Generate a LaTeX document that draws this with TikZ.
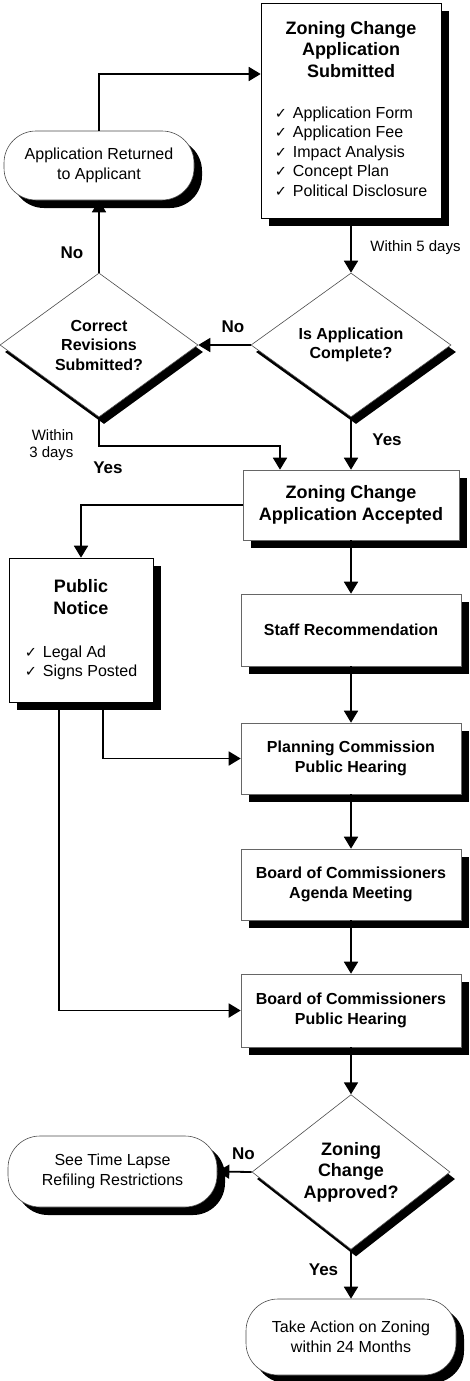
\documentclass[tikz,border=0pt]{standalone}
\usepackage{fontspec}
\setmainfont{Liberation Sans}
\newfontfamily\checkfont{DejaVu Sans}
\usetikzlibrary{shapes.geometric, arrows.meta, shadows}
\newcommand{\chkmark}{{\checkfont\fontsize{14.5}{14.5}\selectfont ✓}\hspace{6pt}}
\newcommand{\ttlfont}{\fontsize{18}{21.5}\selectfont\bfseries}
\tikzset{
    shadowed/.style={drop shadow={shadow xshift=8pt, shadow yshift=-8pt, fill=black, opacity=1}},
    block/.style={rectangle, draw=black!60, fill=white, line width=0.6pt, shadowed, align=center, inner sep=0pt, font=\fontsize{16}{19.5}\selectfont\bfseries},
    bigblock/.style={block, draw=black, font=\fontsize{16}{19.5}\selectfont},
    terminal/.style={rectangle, rounded corners=32pt, draw=black!70, fill=white, line width=0.6pt, shadowed, align=center, inner sep=0pt, font=\fontsize{16}{19.5}\selectfont},
    decision/.style={diamond, draw=black!70, fill=white, line width=0.6pt, inner sep=0pt, align=center, font=\fontsize{16}{19.5}\selectfont\bfseries, drop shadow={shadow xshift=5pt, shadow yshift=-7pt, fill=black, opacity=1}},
    line/.style={draw, line width=1.8pt, -{Triangle[length=12pt, width=14pt]}},
    answer/.style={font=\fontsize{17}{20}\selectfont\bfseries},
    note/.style={font=\fontsize{15}{17}\selectfont},
}

\begin{document}
\begin{tikzpicture}[x=1pt, y=1pt]

    \useasboundingbox (0,0) rectangle (469,-1381);

    % Submission
    \node[bigblock, minimum width=180pt, minimum height=215pt] (submitted) at (351,-110.5) {{\ttlfont\begin{tabular}{@{}c@{}}Zoning Change\\Application\\Submitted\end{tabular}}\\[20pt]\begin{tabular}{@{}l@{}}\chkmark Application Form\\\chkmark Application Fee\\\chkmark Impact Analysis\\\chkmark Concept Plan\\\chkmark Political Disclosure\end{tabular}};
    \node[terminal, minimum width=190pt, minimum height=69pt] (returned) at (99,-165.5) {Application Returned\\to Applicant};

    % Completeness check
    \node[decision, minimum width=200pt, minimum height=144pt] (complete) at (351,-345) {Is Application\\Complete?};
    \node[decision, minimum width=198pt, minimum height=144pt] (revisions) at (99,-345) {Correct\\Revisions\\Submitted?};

    % Review steps
    \node[block, minimum width=216pt, minimum height=70pt, font=\ttlfont] (accepted) at (351,-505) {Zoning Change\\Application Accepted};
    \node[bigblock, minimum width=144pt, minimum height=144pt] (notice) at (81,-630) {{\ttlfont\begin{tabular}{@{}c@{}}Public\\Notice\end{tabular}}\\[22pt]\begin{tabular}{@{}l@{}}\chkmark Legal Ad\\\chkmark Signs Posted\end{tabular}};
    \node[block, minimum width=220pt, minimum height=72pt] (staff) at (351,-630) {Staff Recommendation};
    \node[block, minimum width=220pt, minimum height=71pt] (planning) at (351,-758.5) {Planning Commission\\Public Hearing};
    \node[block, minimum width=220pt, minimum height=71pt] (agenda) at (351,-884.5) {Board of Commissioners\\Agenda Meeting};
    \node[block, minimum width=220pt, minimum height=73pt] (hearing) at (351,-1010.5) {Board of Commissioners\\Public Hearing};

    % Decision
    \node[decision, minimum width=198pt, minimum height=142pt, font=\fontsize{18}{21.5}\selectfont\bfseries] (approved) at (351,-1172) {Zoning\\Change\\Approved?};
    \node[terminal, minimum width=209pt, minimum height=71pt] (refiling) at (112.5,-1171.5) {See Time Lapse\\Refiling Restrictions};
    \node[terminal, minimum width=210pt, minimum height=76pt] (action) at (351,-1337) {Take Action on Zoning\\within 24 Months};

    % Labels
    \node[note] (within5) at (415.5,-248) {Within 5 days};
    \node[note, align=right, anchor=east] (within3) at (77,-445) {Within\\3 days};
    \node[answer] (no1) at (72,-253) {No};
    \node[answer] (no2) at (233,-327) {No};
    \node[answer] (yes1) at (387,-440) {Yes};
    \node[answer] (yes2) at (108,-468) {Yes};
    \node[answer] (no3) at (243.5,-1154) {No};
    \node[answer] (yes3) at (323.5,-1270) {Yes};

    % Connectors
    \draw[line] (returned.north) |- ([yshift=36.5pt]submitted.west);
    \draw[line] (revisions.north) -- (returned.south);
    \draw[line] (submitted.south) -- (complete.north);
    \draw[line] (complete.west) -- (revisions.east);
    \draw[line] (complete.south) -- (accepted.north);
    \draw[line] (revisions.south) -- ++(0,-29) -| ([xshift=-71pt]accepted.north);
    \draw[line] (accepted.west) -| (notice.north);
    \draw[line] (accepted.south) -- (staff.north);
    \draw[line] (staff.south) -- (planning.north);
    \draw[line] (planning.south) -- (agenda.north);
    \draw[line] (agenda.south) -- (hearing.north);
    \draw[line] ([xshift=22pt]notice.south) |- (planning.west);
    \draw[line] ([xshift=-22pt]notice.south) |- (hearing.west);
    \draw[line] (hearing.south) -- (approved.north);
    \draw[line] (approved.west) -- (refiling.east);
    \draw[line] (approved.south) -- (action.north);

\end{tikzpicture}
\end{document}
